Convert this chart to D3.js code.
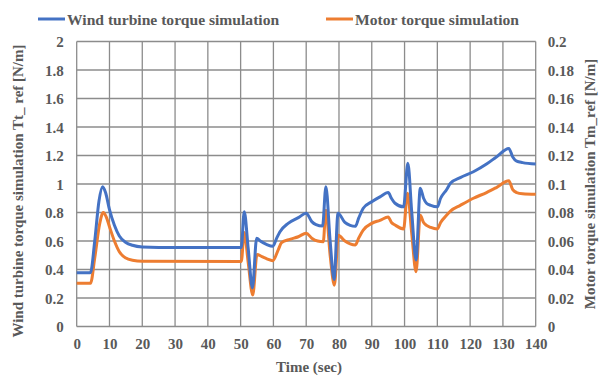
<!DOCTYPE html>
<html><head><meta charset="utf-8">
<script src="https://cdn.jsdelivr.net/npm/d3@7"></script>
<style>
html,body{margin:0;padding:0;background:#fff;}
svg text{font-family:"Liberation Serif","Times New Roman",serif;font-weight:bold;fill:#595959;}
</style></head><body>
<svg id="c" width="599" height="376"></svg>
<script>
const time = [0,4.2,5.5,6.8,7.9,8.8,10,11.5,13,15,17,20,25,50.2,51.1,52.3,53.6,54.9,56,58,59.8,61,62,64.5,67.6,70,71.7,73,75,76,77.3,78.5,79.7,81.8,83.4,85,86,87.4,90,92.5,95,96,97.1,99.7,101,102.2,103.5,104.8,105.8,106.7,108,110,111,112.8,114,117,121,125,128,131.8,133,134.2,136,140];
const windTorque = [0.378,0.378,0.6,0.88,0.98,0.94,0.82,0.71,0.635,0.59,0.57,0.558,0.555,0.555,0.806,0.55,0.27,0.62,0.6,0.575,0.563,0.62,0.665,0.724,0.764,0.795,0.736,0.715,0.705,0.98,0.6,0.33,0.795,0.73,0.71,0.703,0.76,0.83,0.876,0.91,0.94,0.9,0.865,0.84,1.145,0.8,0.467,0.97,0.9,0.865,0.85,0.84,0.9,0.96,1.005,1.045,1.086,1.14,1.19,1.25,1.19,1.16,1.15,1.14];
const timeM = [0,4.2,5.5,7,8.1,9,10,11.5,13,15,17,20,50.2,51.1,52.3,53.7,55,56.5,58,59.8,61.5,62.5,65,67.6,70,71.7,73.5,75.2,76,77.3,78.6,79.8,81.8,83.4,85,86,87.4,90,92.5,95,96,97.1,99.7,100.9,102.2,103.5,104.8,105.8,106.7,108,110,111,112.8,114,117,121,125,128,131.8,133,134.2,136,140];
const motorTorque = [0.0303,0.0303,0.048,0.072,0.080,0.077,0.070,0.060,0.0525,0.048,0.0465,0.0458,0.0457,0.066,0.045,0.0221,0.0505,0.049,0.0475,0.0462,0.054,0.0588,0.0612,0.063,0.0655,0.062,0.060,0.0595,0.0815,0.050,0.029,0.064,0.060,0.058,0.0572,0.062,0.0677,0.0724,0.0745,0.0768,0.073,0.0712,0.0685,0.0935,0.065,0.0385,0.078,0.073,0.071,0.0695,0.0685,0.073,0.078,0.081,0.085,0.090,0.094,0.0975,0.1022,0.096,0.094,0.0932,0.0928];
const xTicks = d3.range(0,141,10);
const yLeftTicks = d3.range(0,2.01,0.2);
const yRightTicks = d3.range(0,0.201,0.02);
const legendLabels = ["Wind turbine torque simulation","Motor torque simulation"];
const colors = ["#4472C4","#ED7D31"];

const svg = d3.select("#c");
const L=76.7, R=535.7, T=41.5, B=326.5;
const x = d3.scaleLinear().domain([0,140]).range([L,R]);
const yL = d3.scaleLinear().domain([0,2]).range([B,T]);
const yR = d3.scaleLinear().domain([0,0.2]).range([B,T]);

const grid = svg.append("g");
grid.selectAll("line.v").data(xTicks).join("line")
  .attr("x1",d=>x(d)).attr("x2",d=>x(d)).attr("y1",T).attr("y2",B)
  .attr("stroke","#8c8c8c").attr("stroke-width",1.3);
grid.selectAll("line.h").data(yLeftTicks).join("line")
  .attr("x1",L).attr("x2",R).attr("y1",d=>yL(d)).attr("y2",d=>yL(d))
  .attr("stroke","#8c8c8c").attr("stroke-width",1.3);

const fmtL = d=> d3.format("~g")(+d.toFixed(2));
const fmtR = d=> d===0 ? "0" : d3.format(".2f")(d).replace(/0+$/,"").replace(/\.$/,"");
const FS = 15;
// left axis
const axL = svg.append("g").attr("transform",`translate(${L},0)`)
  .call(d3.axisLeft(yL).tickValues(yLeftTicks).tickSize(0).tickPadding(13).tickFormat(fmtL));
axL.select(".domain").remove();
axL.selectAll("text").attr("font-size",FS).attr("dy","0.35em");
// right axis
const axR = svg.append("g").attr("transform",`translate(${R},0)`)
  .call(d3.axisRight(yR).tickValues(yRightTicks).tickSize(0).tickPadding(12).tickFormat(fmtR));
axR.select(".domain").remove();
axR.selectAll("text").attr("font-size",FS).attr("dy","0.35em");
// x axis
const axX = svg.append("g").attr("transform",`translate(0,${B})`)
  .call(d3.axisBottom(x).tickValues(xTicks).tickSize(0).tickPadding(12).tickFormat(d3.format("d")));
axX.select(".domain").remove();
axX.selectAll("text").attr("font-size",FS).attr("dy","0.71em");

const line = (xs,ys,sy)=> d3.line().x((d,i)=>x(xs[i])).y((d,i)=>sy(ys[i])).curve(d3.curveMonotoneX)(ys);
svg.append("path").attr("d",line(timeM,motorTorque,yR)).attr("fill","none")
  .attr("stroke",colors[1]).attr("stroke-width",3).attr("stroke-linejoin","round");
svg.append("path").attr("d",line(time,windTorque,yL)).attr("fill","none")
  .attr("stroke",colors[0]).attr("stroke-width",3).attr("stroke-linejoin","round");

// titles
svg.append("text").attr("x",309).attr("y",372).attr("text-anchor","middle").attr("font-size",FS).text("Time (sec)");
svg.append("text").attr("transform",`translate(23,${(T+B)/2+7}) rotate(-90)`).attr("text-anchor","middle").attr("font-size",FS)
  .text("Wind  turbine torque simulation Tt_ ref [N/m]");
svg.append("text").attr("transform",`translate(595,${(T+B)/2}) rotate(-90)`).attr("text-anchor","middle").attr("font-size",FS)
  .text("Motor torque simulation Tm_ref [N/m]");

// legend
const lg = [{x1:38,x2:65,tx:67},{x1:326,x2:353,tx:355}];
lg.forEach((g,i)=>{
  svg.append("line").attr("x1",g.x1).attr("x2",g.x2).attr("y1",19).attr("y2",19).attr("stroke",colors[i]).attr("stroke-width",3);
  svg.append("text").attr("x",g.tx).attr("y",24.5).attr("font-size",15.6).text(legendLabels[i]);
});
</script></body></html>
